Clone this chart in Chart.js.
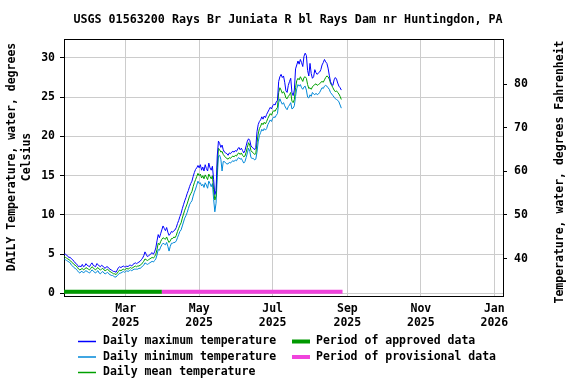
<!DOCTYPE html>
<html>
<head>
<meta charset="utf-8">
<script src="https://cdn.jsdelivr.net/npm/chart.js@4.4.1/dist/chart.umd.min.js"></script>
<style>
html,body{margin:0;padding:0;background:#fff}
#chart{display:block}
</style>
</head>
<body>
<canvas id="chart" width="576" height="384"></canvas>
<script>
const FONT = '"DejaVu Sans Mono", monospace'

// day numbers counted from 2025-01-01 (= day 0)
const startDay = 8

const maxTemp = [
  5.0,5.0,4.9,4.7,4.6,4.6,4.4,4.3,4.1,3.9,
  3.8,3.6,3.4,3.5,3.4,3.7,3.4,3.5,3.8,3.6,
  3.5,3.4,3.7,3.9,3.6,3.5,3.4,3.8,3.7,3.5,
  3.4,3.6,3.5,3.3,3.2,3.4,3.4,3.2,3.1,3.0,
  2.9,2.8,2.8,2.7,3.0,3.3,3.4,3.3,3.4,3.5,
  3.4,3.4,3.5,3.4,3.6,3.6,3.5,3.7,3.8,3.9,
  3.8,3.9,4.0,4.1,4.3,4.5,4.8,5.3,5.0,4.7,
  4.8,4.9,5.1,5.2,5.0,5.3,5.8,6.7,7.5,7.1,
  7.6,8.1,8.6,8.3,8.0,8.4,7.8,7.4,7.6,7.9,
  7.8,8.0,8.1,8.4,8.9,9.3,9.8,10.2,10.8,11.3,
  11.8,12.2,12.7,13.1,13.6,14.0,14.3,14.9,15.4,15.8,
  16.0,16.3,16.0,16.4,15.7,16.1,15.6,16.4,15.9,15.6,
  16.6,16.0,15.7,16.2,14.5,12.6,13.1,17.5,19.4,19.1,
  18.6,18.9,18.3,18.0,17.9,17.8,17.6,17.9,17.8,18.0,
  18.1,18.0,18.2,18.1,18.4,18.6,18.3,18.5,18.2,17.9,
  18.2,18.8,19.4,19.7,19.5,18.8,18.6,18.5,18.3,18.6,
  20.6,21.5,21.9,22.1,22.5,22.2,22.6,22.4,22.8,23.1,
  23.4,23.7,23.5,23.9,24.1,24.0,24.4,24.6,27.0,27.6,
  27.9,27.5,27.7,26.9,25.8,25.6,26.5,27.0,27.4,25.6,
  25.2,25.9,28.6,29.1,29.6,29.2,29.8,29.4,28.9,30.2,
  30.6,30.3,28.4,27.7,29.3,28.0,27.4,27.6,28.5,28.1,
  27.9,28.1,28.2,28.5,29.1,29.4,29.8,29.5,29.3,28.7,
  27.8,27.0,26.6,26.5,27.2,27.5,27.3,26.8,26.4,26.2,25.9
]

const minTemp = [
  4.4,4.3,4.2,4.1,4.0,3.9,3.6,3.5,3.3,3.2,
  3.1,2.9,2.7,2.6,2.8,2.8,2.6,2.8,2.9,2.8,
  2.7,2.6,2.8,3.0,2.9,2.7,2.6,2.8,2.9,2.6,
  2.5,2.7,2.8,2.6,2.5,2.6,2.7,2.5,2.4,2.3,
  2.3,2.2,2.1,2.1,2.3,2.4,2.6,2.6,2.7,2.8,
  2.7,2.8,2.9,2.8,2.9,3.0,2.9,3.0,3.1,3.1,
  3.1,3.1,3.2,3.2,3.3,3.5,3.6,3.9,3.8,3.7,
  3.8,3.9,4.0,4.1,4.0,4.2,4.4,4.9,5.6,5.5,
  5.9,6.2,6.4,6.3,6.2,6.5,6.0,5.4,6.0,6.4,
  6.4,6.5,6.5,6.7,7.1,7.5,7.9,8.1,8.6,9.1,
  9.6,9.9,10.3,10.8,11.3,11.6,11.8,12.4,12.9,13.3,
  13.8,14.3,14.0,14.1,13.7,13.9,13.5,14.1,13.8,13.4,
  14.3,14.0,13.6,14.0,12.0,10.4,11.5,14.8,17.5,17.6,
  17.1,15.6,16.8,16.8,16.6,16.5,16.5,16.7,16.6,16.8,
  16.9,16.8,17.0,16.9,17.2,17.3,17.1,17.2,16.9,16.6,
  16.8,17.3,17.9,18.5,18.1,17.3,17.2,17.2,17.0,17.1,
  18.0,19.3,20.1,20.5,20.9,20.7,21.0,20.8,21.0,21.5,
  21.8,22.1,21.9,22.3,22.5,22.4,22.7,22.9,24.3,24.8,
  24.4,24.1,24.3,23.9,23.6,23.4,23.8,24.0,24.3,23.5,
  23.6,23.9,25.1,26.1,26.6,26.4,26.6,26.2,26.0,26.3,
  26.4,25.9,25.0,24.9,25.3,25.1,25.6,25.4,25.3,25.5,
  25.3,25.4,25.6,25.9,26.2,26.1,26.4,26.5,26.4,26.2,
  26.0,25.6,25.4,25.2,25.0,24.8,24.7,24.6,24.4,24.0,23.6
]

const meanTemp = [
  4.7,4.6,4.5,4.4,4.3,4.2,4.0,3.9,3.7,3.6,
  3.5,3.3,3.1,3.0,3.1,3.2,3.0,3.1,3.3,3.2,
  3.1,3.0,3.2,3.4,3.3,3.1,3.0,3.2,3.3,3.1,
  3.0,3.1,3.2,3.0,2.9,3.0,3.1,2.9,2.8,2.7,
  2.6,2.5,2.5,2.4,2.6,2.8,3.0,2.9,3.0,3.1,
  3.0,3.1,3.2,3.1,3.2,3.3,3.2,3.3,3.4,3.5,
  3.4,3.5,3.5,3.6,3.7,3.9,4.1,4.4,4.3,4.2,
  4.3,4.4,4.5,4.6,4.5,4.7,5.0,5.6,6.4,6.2,
  6.6,6.9,7.1,7.0,6.9,7.2,6.8,6.5,6.7,7.0,
  7.0,7.2,7.1,7.4,7.9,8.3,8.7,9.0,9.6,10.1,
  10.6,11.0,11.4,11.9,12.4,12.7,13.0,13.6,14.1,14.5,
  14.9,15.3,15.0,15.2,14.7,15.0,14.6,15.1,14.8,14.5,
  15.2,14.9,14.6,15.0,13.2,11.9,12.4,16.0,18.5,18.3,
  18.0,18.1,17.7,17.5,17.3,17.2,17.1,17.3,17.2,17.4,
  17.5,17.4,17.6,17.5,17.8,17.9,17.7,17.9,17.6,17.4,
  17.5,18.0,18.6,19.2,18.9,18.2,18.0,17.9,17.7,17.8,
  19.2,20.3,21.0,21.3,21.7,21.5,21.8,21.6,21.9,22.3,
  22.6,22.9,22.7,23.1,23.3,23.2,23.5,23.7,25.6,26.2,
  25.9,25.5,25.7,25.4,24.9,24.8,25.1,25.3,25.6,24.5,
  24.3,24.7,26.2,27.1,27.4,27.2,27.6,27.3,27.0,27.5,
  27.6,27.4,26.6,26.1,26.2,26.0,26.3,26.5,26.6,26.7,
  26.5,26.6,26.7,26.9,27.0,26.9,27.2,27.5,27.7,27.6,
  27.3,26.8,26.5,26.2,25.9,25.7,25.8,25.6,25.4,25.1,24.7
]

// approval status periods (start day, end day)
const approvedPeriod = [7, 89]
const provisionalPeriod = [89, 239]

const tickDays = [59, 120, 181, 243, 304, 365]
const tickLabels = [['Mar','2025'],['May','2025'],['Jul','2025'],['Sep','2025'],['Nov','2025'],['Jan','2026']]
const celsiusTicks = [0, 5, 10, 15, 20, 25, 30]
const fahrenheitTicks = [40, 50, 60, 70, 80]

const yMin = -0.32, yMax = 32.4
const toF = c => c * 1.8 + 32
const toPoints = arr => arr.map((v, i) => ({x: startDay + i, y: v}))
const bar = (p) => [{x: p[0], y: 0.22}, {x: p[1], y: 0.22}]

const C_MAX = '#0000ff', C_MIN = '#0088d8', C_MEAN = '#00a000'
const C_APPR = '#009900', C_PROV = '#f044dc'

const tickFont = {family: FONT, size: 11.5, weight: 'bold'}

const extras = {
  id: 'extras',
  afterDraw(chart) {
    const {ctx, chartArea: a} = chart
    ctx.save()
    // top edge of the frame (other edges are the axis borders)
    ctx.strokeStyle = '#000'
    ctx.lineWidth = 1
    const ty = Math.round(a.top) + 0.5
    ctx.beginPath(); ctx.moveTo(a.left, ty); ctx.lineTo(a.right + 0.5, ty); ctx.stroke()

    ctx.fillStyle = '#000'
    ctx.font = 'bold 11.5px ' + FONT
    ctx.textAlign = 'center'
    ctx.textBaseline = 'middle'
    // left axis title
    ctx.save()
    ctx.translate(12, 157)
    ctx.rotate(-Math.PI / 2)
    ctx.fillText('DAILY Temperature, water, degrees', 0, 0)
    ctx.fillText('Celsius', 0, 15)
    ctx.restore()
    // right axis title
    ctx.save()
    ctx.translate(560, 172)
    ctx.rotate(-Math.PI / 2)
    ctx.fillText('Temperature, water, degrees Fahrenheit', 0, 0)
    ctx.restore()

    // legend
    ctx.textAlign = 'left'
    const rows = [341.5, 357, 372.5]
    const left = [[C_MAX, 'Daily maximum temperature'], [C_MIN, 'Daily minimum temperature'], [C_MEAN, 'Daily mean temperature']]
    left.forEach((it, i) => {
      ctx.strokeStyle = it[0]; ctx.lineWidth = 1.5
      ctx.beginPath(); ctx.moveTo(78, rows[i]); ctx.lineTo(96, rows[i]); ctx.stroke()
      ctx.fillText(it[1], 103, rows[i])
    })
    const right = [[C_APPR, 'Period of approved data'], [C_PROV, 'Period of provisional data']]
    right.forEach((it, i) => {
      ctx.strokeStyle = it[0]; ctx.lineWidth = 4
      ctx.beginPath(); ctx.moveTo(292, rows[i]); ctx.lineTo(310, rows[i]); ctx.stroke()
      ctx.fillText(it[1], 316, rows[i])
    })
    ctx.restore()
  }
}

const line = (label, data, color, width) => ({
  label, data, borderColor: color, backgroundColor: color, borderWidth: width,
  pointRadius: 0, tension: 0, fill: false, yAxisID: 'y'
})

let chart = new Chart(document.getElementById('chart'), {
  type: 'line',
  data: {
    datasets: [
      line('Period of approved data', bar(approvedPeriod), C_APPR, 4),
      line('Period of provisional data', bar(provisionalPeriod), C_PROV, 4),
      line('Daily maximum temperature', toPoints(maxTemp), C_MAX, 1),
      line('Daily mean temperature', toPoints(meanTemp), C_MEAN, 1),
      line('Daily minimum temperature', toPoints(minTemp), C_MIN, 1)
    ]
  },
  options: {
    responsive: false,
    animation: false,
    layout: {padding: 0},
    plugins: {
      legend: {display: false},
      tooltip: {enabled: false},
      title: {
        display: true,
        text: 'USGS 01563200 Rays Br Juniata R bl Rays Dam nr Huntingdon, PA',
        color: '#000',
        font: {family: FONT, size: 11.7, weight: 'bold'},
        padding: {top: 13, bottom: 12}
      }
    },
    scales: {
      x: {
        type: 'linear', min: 7.8, max: 372.2,
        afterBuildTicks: s => { s.ticks = tickDays.map(v => ({value: v})) },
        afterFit: s => { s.height = 88 },
        grid: {color: '#cccccc', drawTicks: false},
        border: {color: '#000'},
        ticks: {
          padding: 6, color: '#000', font: tickFont, autoSkip: false, maxRotation: 0,
          callback: v => tickLabels[tickDays.indexOf(v)]
        }
      },
      y: {
        position: 'left', min: yMin, max: yMax,
        afterBuildTicks: s => { s.ticks = celsiusTicks.map(v => ({value: v})) },
        afterFit: s => { s.width = 64 },
        grid: {color: '#cccccc', tickColor: '#000', tickLength: 4},
        border: {color: '#000'},
        ticks: {padding: 5, color: '#000', font: tickFont}
      },
      y2: {
        position: 'right', min: toF(yMin), max: toF(yMax),
        afterBuildTicks: s => { s.ticks = fahrenheitTicks.map(v => ({value: v})) },
        afterFit: s => { s.width = 73 },
        grid: {drawOnChartArea: false, tickColor: '#000', tickLength: 4},
        border: {color: '#000'},
        ticks: {padding: 7, color: '#000', font: tickFont}
      }
    }
  },
  plugins: [extras]
})
</script>
</body>
</html>
